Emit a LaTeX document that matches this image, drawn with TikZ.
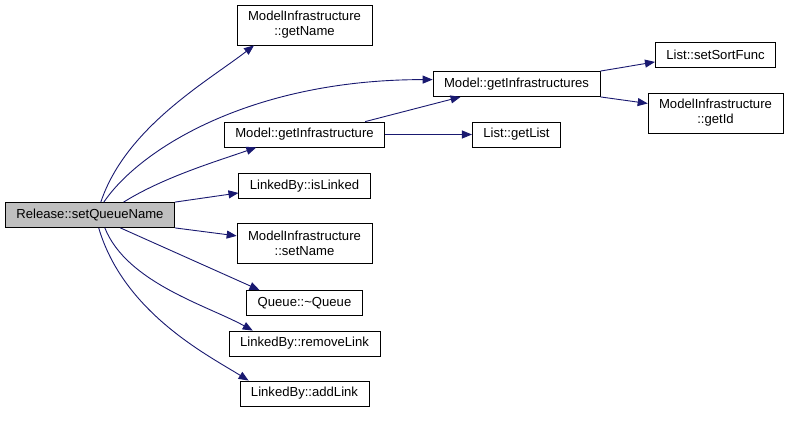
\documentclass[tikz,border=0pt]{standalone}
\usepackage{fontspec}
\setmainfont{Liberation Sans}
\usetikzlibrary{arrows.meta,positioning}
\definecolor{callblue}{HTML}{191970}
\begin{document}
\begin{tikzpicture}[x=1pt, y=1pt, node distance=212pt,
	fn/.style = {draw, rectangle, line width=0.8pt, inner xsep=11pt, inner ysep=0pt, minimum height=25pt, font=\fontsize{13.1pt}{15pt}\selectfont},
	fn2/.style = {fn, align=center, minimum height=40pt},
	call/.style = {draw=callblue, line width=0.9pt, -{Triangle[length=10pt,width=8pt]}}]
	\useasboundingbox (0,0) rectangle (789,-423);
	\node[fn, fill=gray!50] (rel) at (90,-215) {Release::setQueueName};
	%Callees of setQueueName, one column
	\node[fn2] (getname) at (304.5,-25) {ModelInfrastructure\\::getName};
	\node[fn] (getinfra) [node distance={109.5pt}, below of=getname] {Model::getInfrastructure};
	\node[fn] (islinked) [node distance={51.5pt}, below of=getinfra] {LinkedBy::isLinked};
	\node[fn2] (setname) [node distance={57pt}, below of=islinked] {ModelInfrastructure\\::setName};
	\node[fn] (queue) [node distance={60pt}, below of=setname] {Queue::\textasciitilde Queue};
	\node[fn] (remove) [node distance={40.5pt}, below of=queue] {LinkedBy::removeLink};
	\node[fn] (addlink) [node distance={50pt}, below of=remove] {LinkedBy::addLink};
	%Second and third column
	\node[fn] (getlist) [right of=getinfra] {List::getList};
	\node[fn] (getinfras) [node distance={50.5pt}, above of=getlist] {Model::getInfrastructures};
	\node[fn2] (getid) at (715.5,-113) {ModelInfrastructure\\::getId};
	\node[fn] (sortfunc) [node distance={58.5pt}, above of=getid] {List::setSortFunc};

	%Calls from setQueueName
	\draw[call] (rel.50) .. controls +(25,75) and +(-45,-35) .. (getname.202); %getName
	\draw[call] (rel.43) .. controls +(36,53) and +(-182,0) .. (getinfras.177); %getInfrastructures
	\draw[call] (rel.21) .. controls +(40,25) and +(-40,-14) .. (getinfra.195); %getInfrastructure
	\draw[call] (rel.north east) -- (islinked.186); %isLinked
	\draw[call] (rel.south east) -- (setname.174); %setName
	\draw[call] (rel.337) -- (queue.164); %~Queue
	\draw[call] (rel.319) .. controls +(22,-55) and +(-45,25) .. (remove.166); %removeLink
	\draw[call] (rel.304) .. controls +(25,-85) and +(-40,25) .. (addlink.167); %addLink

	%Calls further down
	\draw[call] (getinfra.12) -- (getinfras.193);
	\draw[call] (getinfra) -- (getlist);
	\draw[call] (getinfras.north east) -- (sortfunc.187);
	\draw[call] (getinfras.south east) -- (getid.172);
\end{tikzpicture}
\end{document}
